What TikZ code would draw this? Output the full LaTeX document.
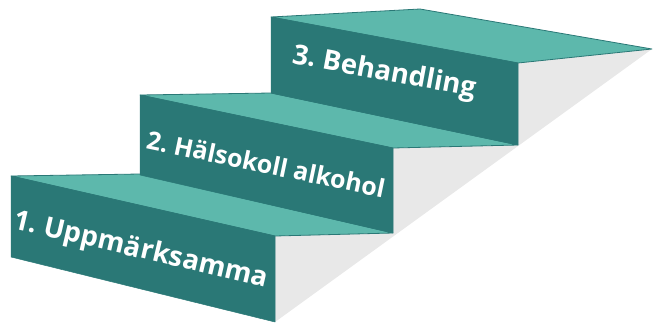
\documentclass[tikz,border=0pt]{standalone}
\usepackage{fontspec}
\setmainfont{Open Sans}
\frenchspacing
\definecolor{topc}{HTML}{5DB8AC}
\definecolor{frontc}{HTML}{2A7876}
\definecolor{sidec}{HTML}{E8E8E8}
\definecolor{edgec}{HTML}{2A7876}
\begin{document}
\begin{tikzpicture}[x=1pt,y=-1pt,
  topface/.style={fill=topc,draw=edgec,line width=0.8pt,line join=round},
  frontface/.style={fill=frontc,draw=edgec,line width=0.5pt,line join=round},
  sideface/.style={fill=sidec,draw=none},
  steplabel/.style={text=white,font=\bfseries\fontsize{27.5}{30}\selectfont,inner sep=0pt}]
\useasboundingbox (0,0) rectangle (653,327);
% side (gray)
\fill[sidec] (652,49) -- (518,63) -- (518,145) -- (393,148) -- (393,233) -- (275,236) -- (275,322) -- cycle;
% step 1
\draw[topface] (11,176) -- (140,174) -- (393,233) -- (275,236) -- cycle;
\draw[frontface] (11,176) -- (275,236) -- (275,322) -- (11,257) -- cycle;
% step 2
\draw[topface] (140,95) -- (271,93) -- (518,145) -- (393,148) -- cycle;
\draw[frontface] (140,95) -- (393,148) -- (393,233) -- (140,175) -- cycle;
% step 3
\draw[topface] (271,17) -- (420,9) -- (652,49) -- (518,63) -- cycle;
\draw[frontface] (271,17) -- (518,63) -- (518,145) -- (271,93) -- cycle;
% labels
\node[steplabel,rotate=-13.2] (s1) at (141,251) {1. Uppmärksamma};
\node[steplabel,rotate=-11.8,font=\bfseries\fontsize{25}{28}\selectfont] (s2) at (266,164) {2. Hälsokoll alkohol};
\node[steplabel,rotate=-10.5] (s3) at (384,73) {3. Behandling};
\end{tikzpicture}
\end{document}
